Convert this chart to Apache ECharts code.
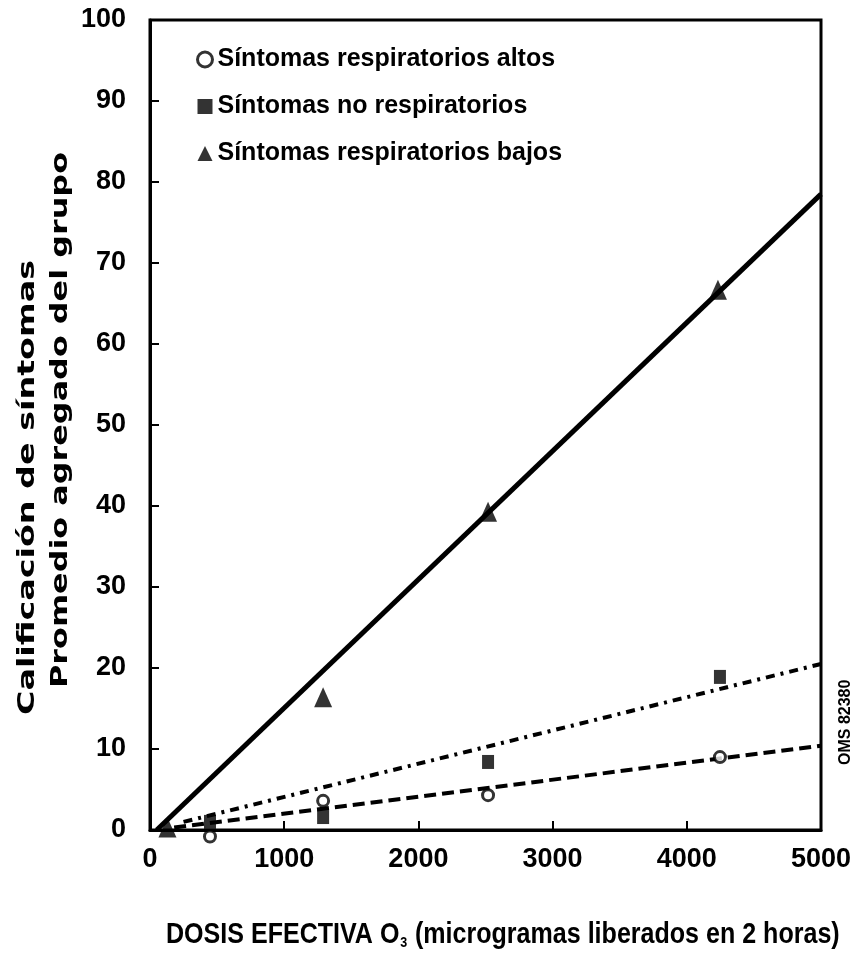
<!DOCTYPE html>
<html>
<head>
<meta charset="utf-8">
<script src="https://cdn.jsdelivr.net/npm/echarts@6/dist/echarts.min.js"></script>
<style>
  html, body { margin: 0; padding: 0; background: #fff; }
  #chart { width: 865px; height: 976px; }
</style>
</head>
<body>
<div id="chart"></div>
<script>
// Dose (µg delivered in 2 h) and aggregated group symptom scores
const seriesNames = ['Síntomas respiratorios altos', 'Síntomas no respiratorios', 'Síntomas respiratorios bajos'];

const altosDose = [447, 1290, 2519, 4247];
const altosScore = [-0.8, 3.6, 4.3, 9.0];

const noRespDose = [447, 1290, 2519, 4247];
const noRespScore = [1.0, 1.6, 8.4, 18.9];

const bajosDose = [130, 1290, 2519, 4232];
const bajosScore = [0.3, 16.4, 39.3, 66.7];

// Fitted trend lines: [dose, score] end points
const bajosFit = [[50, 0], [5000, 78.5]];
const noRespFit = [[250, 1.0], [5000, 20.5]];
const altosFit = [[180, 0.3], [5000, 10.4]];

const xTicks = [0, 1000, 2000, 3000, 4000, 5000];
const yTicks = [0, 10, 20, 30, 40, 50, 60, 70, 80, 90, 100];

const yTitle1 = 'Calificación de síntomas';
const yTitle2 = 'Promedio agregado del grupo';
const xTitleA = 'DOSIS EFECTIVA O';
const xTitleSub = '3';
const xTitleB = ' (microgramas liberados en 2 horas)';
const stamp = 'OMS 82380';

const FONT = '"Liberation Sans", Arial, sans-serif';
const TITLE_FONT = '"DejaVu Sans", sans-serif';
const pair = (xs, ys) => xs.map((x, i) => [x, ys[i]]);

// Width of a string in a given font, used to stretch/condense titles to length
const measureCtx = document.createElement('canvas').getContext('2d');
function textWidth(str, font) {
  measureCtx.font = font;
  return measureCtx.measureText(str).width;
}

const yTitleSize = 23;
const yTitleFont = 'bold ' + yTitleSize + 'px ' + TITLE_FONT;
const y1Scale = 455 / textWidth(yTitle1, yTitleFont);
const y2Scale = 536 / textWidth(yTitle2, yTitleFont);

const xTitleSize = 30;
const xTitleFont = 'bold ' + xTitleSize + 'px ' + FONT;
const xTitleW = textWidth(xTitleA + xTitleB, xTitleFont) + textWidth(xTitleSub, 'bold 15px ' + FONT);
const xScale = 672 / xTitleW;

const chart = echarts.init(document.getElementById('chart'), null, { renderer: 'canvas' });

chart.setOption({
  animation: false,
  backgroundColor: '#ffffff',
  grid: {
    left: 150, top: 20, right: 44, bottom: 146,
    outerBoundsMode: 'none',
    show: true, borderColor: '#000', borderWidth: 3, backgroundColor: 'transparent'
  },
  legend: {
    orient: 'vertical',
    left: 191, top: 42,
    itemGap: 22,
    itemWidth: 15, itemHeight: 15,
    textStyle: { fontFamily: FONT, fontWeight: 'bold', fontSize: 25, color: '#000' },
    data: [
      { name: seriesNames[0], icon: 'circle', itemStyle: { color: '#fff', borderColor: '#000', borderWidth: 3 } },
      { name: seriesNames[1], icon: 'rect' },
      { name: seriesNames[2], icon: 'triangle' }
    ]
  },
  xAxis: {
    type: 'value',
    min: xTicks[0], max: xTicks[xTicks.length - 1], interval: 1000,
    axisLine: { lineStyle: { color: '#000', width: 3 } },
    axisTick: { inside: true, length: 9, lineStyle: { color: '#000', width: 2 } },
    splitLine: { show: false },
    axisLabel: {
      margin: 16, color: '#000', fontFamily: FONT, fontWeight: 'bold', fontSize: 27,
      formatter: v => xTicks.includes(v) ? String(v) : ''
    }
  },
  yAxis: {
    type: 'value',
    min: yTicks[0], max: yTicks[yTicks.length - 1], interval: 10,
    axisLine: { lineStyle: { color: '#000', width: 3 } },
    axisTick: { inside: true, length: 9, lineStyle: { color: '#000', width: 2 } },
    splitLine: { show: false },
    axisLabel: {
      margin: 24, color: '#000', fontFamily: FONT, fontWeight: 'bold', fontSize: 27,
      formatter: v => yTicks.includes(v) ? String(v) : ''
    }
  },
  graphic: [
    {
      type: 'text', x: 28, y: 715, rotation: Math.PI / 2, scaleX: y1Scale,
      style: {
        text: yTitle1, font: yTitleFont, fill: '#000',
        align: 'left', verticalAlign: 'middle'
      }
    },
    {
      type: 'text', x: 61, y: 688, rotation: Math.PI / 2, scaleX: y2Scale,
      style: {
        text: yTitle2, font: yTitleFont, fill: '#000',
        align: 'left', verticalAlign: 'middle'
      }
    },
    {
      type: 'text', x: 166, y: 935, scaleX: xScale,
      style: {
        text: '{t|' + xTitleA + '}{s|' + xTitleSub + '}{t|' + xTitleB + '}',
        align: 'left', verticalAlign: 'middle',
        rich: {
          t: { font: xTitleFont, fill: '#000' },
          s: { font: 'bold 15px ' + FONT, fill: '#000', padding: [16, 1, 0, 1] }
        }
      }
    },
    {
      type: 'text', x: 846, y: 765, rotation: Math.PI / 2,
      style: {
        text: stamp, font: 'bold 16px ' + FONT, fill: '#000',
        align: 'left', verticalAlign: 'middle'
      }
    }
  ],
  series: [
    {
      name: 'bajosFit', type: 'line', data: bajosFit, symbol: 'none', silent: true,
      lineStyle: { color: '#000', width: 5 }, z: 2
    },
    {
      name: 'noRespFit', type: 'line', data: noRespFit, symbol: 'none', silent: true,
      lineStyle: { color: '#000', width: 4, type: [9, 6, 3, 6] }, z: 2
    },
    {
      name: 'altosFit', type: 'line', data: altosFit, symbol: 'none', silent: true,
      lineStyle: { color: '#000', width: 4, type: [12, 6] }, z: 2
    },
    {
      name: seriesNames[0], type: 'scatter', data: pair(altosDose, altosScore),
      symbol: 'circle', symbolSize: 11, clip: false,
      itemStyle: { color: '#fff', borderColor: '#000', borderWidth: 3 }, z: 4
    },
    {
      name: seriesNames[1], type: 'scatter', data: pair(noRespDose, noRespScore),
      symbol: 'rect', symbolSize: [12, 14], clip: false,
      itemStyle: { color: '#000' }, z: 3
    },
    {
      name: seriesNames[2], type: 'scatter', data: pair(bajosDose, bajosScore),
      symbol: 'triangle', symbolSize: [18, 20], clip: false,
      itemStyle: { color: '#000' }, z: 3
    }
  ]
});
</script>
</body>
</html>
